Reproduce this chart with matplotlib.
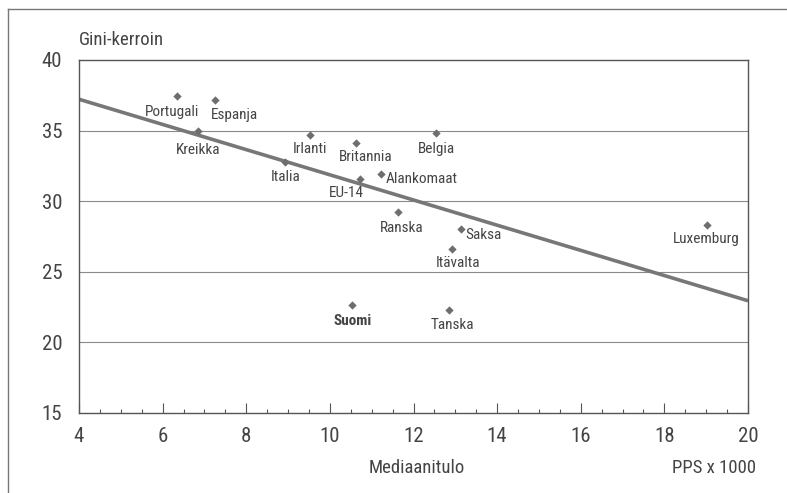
import matplotlib.pyplot as plt
from matplotlib import font_manager
from matplotlib.lines import Line2D
from matplotlib.ticker import MultipleLocator

nimet = {f.name for f in font_manager.fontManager.ttflist}
fontti = next((f for f in ["Liberation Sans Narrow", "Roboto Condensed", "Roboto"]
               if f in nimet), "DejaVu Sans")
plt.rcParams['font.family'] = [fontti, 'DejaVu Sans']

# Maat: mediaanitulo (PPS x 1000) ja Gini-kerroin
maat = ["Portugali", "Espanja", "Kreikka", "Irlanti", "Britannia", "Italia",
        "EU-14", "Alankomaat", "Belgia", "Ranska", "Saksa", "Luxemburg",
        "Itävalta", "Tanska", "Suomi"]
tulo = [6.34, 7.25, 6.84, 9.53, 10.63, 8.93, 10.72, 11.22, 12.53, 11.64,
        13.13, 19.02, 12.93, 12.84, 10.54]
gini = [37.43, 37.2, 34.95, 34.7, 34.12, 32.8, 31.6, 31.9, 34.8, 29.24,
        28.05, 28.3, 26.6, 22.27, 22.65]

# trendiviiva luettu kuvasta
trendi_x = [4, 20]
trendi_y = [37.22, 22.95]

# tekstien sijoitus (offset pikseleinä, tasaus)
siirrot = {
    "Portugali": (-5, -16, "center"),
    "Espanja": (-4, -15, "left"),
    "Kreikka": (0, -19, "center"),
    "Irlanti": (0, -14, "center"),
    "Britannia": (9, -14, "center"),
    "Italia": (0, -15, "center"),
    "EU-14": (-14, -14, "center"),
    "Alankomaat": (5, -5, "left"),
    "Belgia": (1, -16, "center"),
    "Ranska": (3, -16, "center"),
    "Saksa": (5, -6, "left"),
    "Luxemburg": (-1, -14, "center"),
    "Itävalta": (6, -14, "center"),
    "Tanska": (4, -15, "center"),
    "Suomi": (0, -16, "center"),
}

teksti = "#444444"
harmaa = "#6e6e6e"

fig = plt.figure(figsize=(7.87, 4.93), dpi=100)
ax = fig.add_axes([79 / 787, 80 / 493, 669 / 787, 353 / 493])

for y in [20, 25, 30, 35]:
    ax.axhline(y, color="#8a8a8a", lw=0.8, zorder=1)

ax.plot(trendi_x, trendi_y, color="#777777", lw=2.6, zorder=2, solid_capstyle="butt")
ax.scatter(tulo, gini, marker="D", s=18, color=harmaa, zorder=3, linewidths=0)

for nimi, x, y in zip(maat, tulo, gini):
    dx, dy, ha = siirrot[nimi]
    ax.annotate(nimi, (x, y), xytext=(dx, dy), textcoords="offset pixels",
                ha=ha, va="center", fontsize=11, color=teksti,
                fontweight="bold" if nimi == "Suomi" else "normal")

ax.set_xlim(4, 20)
ax.set_ylim(15, 40)
ax.xaxis.set_major_locator(MultipleLocator(2))
ax.xaxis.set_minor_locator(MultipleLocator(0.5))
ax.yaxis.set_major_locator(MultipleLocator(5))
ax.tick_params(axis="x", which="major", direction="in", length=7, width=0.8,
               color="#555555", pad=10, labelsize=15, labelcolor=teksti)
ax.tick_params(axis="x", which="minor", direction="in", length=3, width=0.8,
               color="#555555")
ax.tick_params(axis="y", length=0, pad=12, labelsize=15, labelcolor=teksti)
for s in ax.spines.values():
    s.set_color("#555555")
    s.set_linewidth(1.0)

fig.text(79 / 787, 1 - 40 / 493, "Gini-kerroin", ha="left", va="center",
         fontsize=13.5, color=teksti)
fig.text(417 / 787, 1 - 468 / 493, "Mediaanitulo", ha="center", va="center",
         fontsize=13.5, color=teksti)
fig.text(756 / 787, 1 - 468 / 493, "PPS x 1000", ha="right", va="center",
         fontsize=13.5, color=teksti)

# kehys vasemmalla ja ylhäällä
fig.add_artist(Line2D([8 / 787, 8 / 787], [0, 1 - 9 / 493], color="#777777", lw=1.0))
fig.add_artist(Line2D([8 / 787, 1], [1 - 9 / 493, 1 - 9 / 493], color="#777777", lw=1.0))

fig.savefig("out.png", dpi=100)
